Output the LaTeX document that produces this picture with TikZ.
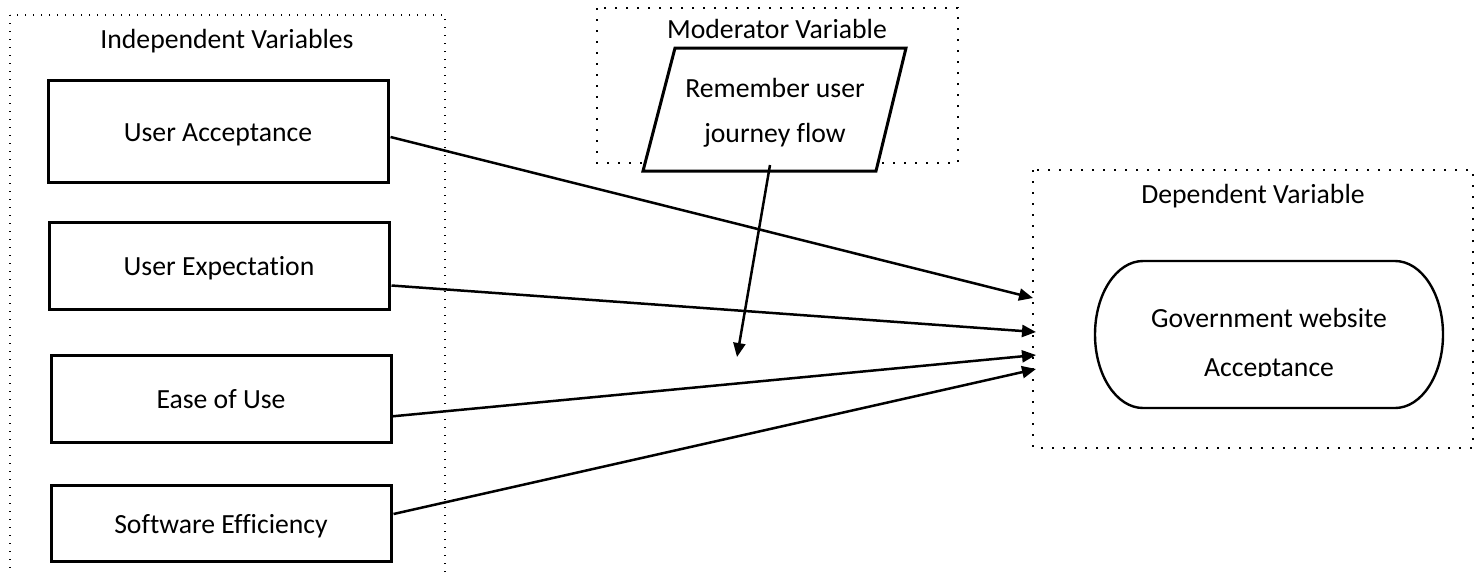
\documentclass[tikz,border=0pt]{standalone}
\usepackage{fontspec}
\setmainfont{Carlito}[Ligatures={NoCommon}]
\usetikzlibrary{arrows.meta,calc}
\begin{document}
\begin{tikzpicture}[x=0.5pt,y=-0.5pt,
  every node/.style={font=\fontsize{13.85}{16.6}\selectfont, inner sep=0pt},
  ivbox/.style={draw, line width=1.5pt, minimum width=170pt, fill=white, text height=12pt, text depth=2pt},
  group/.style={line width=0.6pt, dash pattern=on 0.6pt off 3.4pt},
  groupb/.style={line width=1.2pt, dash pattern=on 1.2pt off 4.3pt},
  conn/.style={line width=1.25pt, -{Triangle[length=7pt,width=6pt]}}
]
\useasboundingbox (0,0) rectangle (1482,574);
\clip (0,0) rectangle (1482,574);
% group frames
\draw[group] (10,15) rectangle (445,600);
\draw[groupb] (597,8) rectangle (958,163);
\draw[groupb] (1033,170) rectangle (1473,448);
% titles
\node (tind) at (227,41) {Independent Variables};
\node (tmod) at (777,29) {Moderator Variable};
\node (tdep) at (1253,196) {Dependent Variable};
% independent variables
\node[ivbox, minimum height=51pt] (ua) at (218,131) {User Acceptance};
\node[ivbox, minimum height=43.5pt] (ue) at (219,265.5) {User Expectation};
\node[ivbox, minimum height=43.5pt] (eou) at (221,398.5) {Ease of Use};
\node[ivbox, minimum height=38pt] (se) at (221,523) {Software Efficiency};
% moderator parallelogram
\draw[line width=1.5pt, fill=white] (675,48) -- (906,48) -- (876,171) -- (643,171) -- cycle;
\node[align=center, font=\fontsize{13.85}{22.5}\selectfont] (mod) at (775,113) {Remember user\\journey flow};
\coordinate (modout) at (770,165);
% dependent stadium
\draw[line width=1.2pt] (1143,261) -- (1395,261)
  arc[start angle=90, end angle=-90, x radius=24pt, y radius=36.75pt]
  -- (1143,408)
  arc[start angle=270, end angle=90, x radius=24pt, y radius=36.75pt] -- cycle;
\begin{scope}
\clip (1095,255) rectangle (1443,376);
\node[align=center, font=\fontsize{13.85}{24.5}\selectfont] (gwa) at (1269,345) {Government website\\Acceptance};
\end{scope}
% connector ends
\coordinate (t1) at (1033,298);
\coordinate (t2) at (1036,332);
\coordinate (t3) at (1036,355);
\coordinate (t4) at (1036,369);
\coordinate (mtip) at (737,357);
% connectors
\draw[conn] ($(ua.east)+(1,6)$) -- (t1);
\draw[conn] ($(ue.east)+(1,20)$) -- (t2);
\draw[conn] ($(eou.east)+(-2,18)$) -- (t3);
\draw[conn] ($(se.east)+(1,-9)$) -- (t4);
\draw[conn] (modout) -- (mtip);
\end{tikzpicture}
\end{document}
